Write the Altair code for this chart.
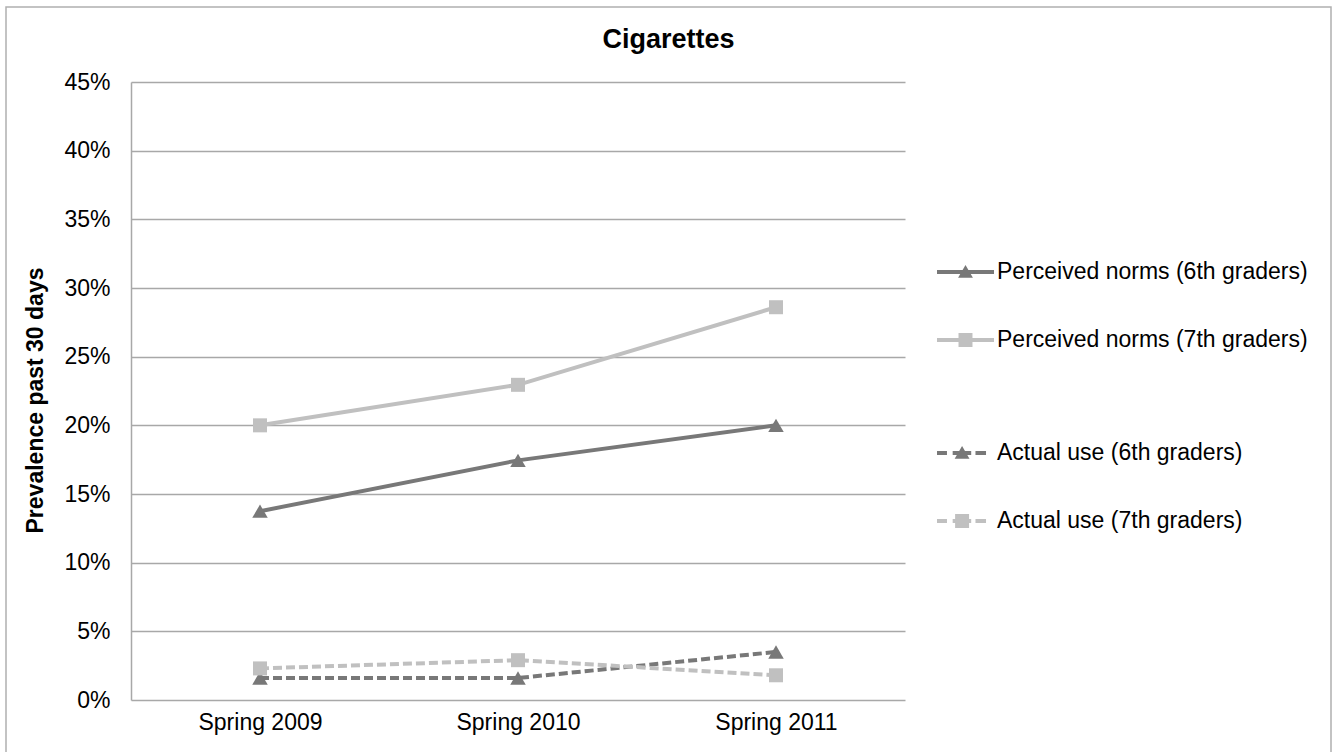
import altair as alt
import pandas as pd

periods = ["Spring 2009", "Spring 2010", "Spring 2011"]
series_names = [
    "Perceived norms (6th graders)",
    "Perceived norms (7th graders)",
    "Actual use (6th graders)",
    "Actual use (7th graders)",
]
perceived_6th = [13.75, 17.45, 20.0]
perceived_7th = [20.0, 22.95, 28.6]
actual_6th = [1.6, 1.6, 3.5]
actual_7th = [2.3, 2.9, 1.8]

values = [perceived_6th, perceived_7th, actual_6th, actual_7th]
rows = []
for name, vals in zip(series_names, values):
    for p, v in zip(periods, vals):
        rows.append({"period": p, "series": name, "value": v / 100})
df = pd.DataFrame(rows)

dark = "#787878"
light = "#c0c0c0"
colors = [dark, light, dark, light]
dashes = [None, None, [9, 4], [9, 4]]
markers = ["triangle-up", "square", "triangle-up", "square"]
marker_sizes = [240, 196, 240, 196]

# legend symbol paths (unit square -1..1): line segment(s) plus marker
solid = "M-1,-0.07H1V0.07H-1Z "
dashed = ("M-1,-0.07H-0.65V0.07H-1Z M-0.45,-0.07H0.2V0.07H-0.45Z "
          "M0.35,-0.07H0.72V0.07H0.35Z ")
sym_paths = [
    solid + "M-0.26,0.2L0,-0.25L0.26,0.2Z",
    solid + "M-0.245,-0.245H0.245V0.245H-0.245Z",
    dashed + "M-0.38,0.2L-0.12,-0.25L0.14,0.2Z",
    dashed + "M-0.365,-0.245H0.125V0.245H-0.365Z",
]

font = "Liberation Sans"

x_enc = alt.X("period:N", sort=periods, scale=alt.Scale(type="point", padding=0.5),
              axis=alt.Axis(title=None, labelFontSize=23, labelColor="#000000",
                            labelFont=font, ticks=False, domain=False, grid=False,
                            labelPadding=11, labelAngle=0))
y_enc = alt.Y("value:Q", scale=alt.Scale(domain=[0, 0.45], nice=False),
              axis=alt.Axis(format=".0%", values=[i * 0.05 for i in range(10)],
                            title="Prevalence past 30 days", titleFontSize=23,
                            titleFont=font, titleFontWeight="bold", titleColor="#000000",
                            titleX=-96, titleY=318, titleAngle=-90, titleBaseline="middle",
                            titleAlign="center",
                            labelFontSize=23, labelFont=font, labelColor="#000000",
                            labelPadding=21, tickSize=0, grid=True, gridColor="#a8a8a8",
                            gridWidth=1.5, domain=True, domainColor="#a8a8a8",
                            domainWidth=1.5))

frame = alt.Chart(df).mark_rect(fill=None, stroke="#b0b0b0", strokeWidth=1.5).encode(
    x=alt.value(-125), x2=alt.value(1200), y=alt.value(-75), y2=alt.value(690)
).transform_filter("datum.period == 'Spring 2009' && datum.series == '%s'" % series_names[0])

layers = [frame]
for name, col, dash, shp, sz in zip(series_names, colors, dashes, markers, marker_sizes):
    base = alt.Chart(df).transform_filter(alt.datum.series == name)
    line_kwargs = dict(strokeWidth=4, strokeCap="butt", color=col)
    if dash:
        line_kwargs["strokeDash"] = dash
    layers.append(base.mark_line(**line_kwargs).encode(x=x_enc, y=y_enc))
    layers.append(base.mark_point(shape=shp, filled=True, size=sz, opacity=1,
                                  color=col).encode(x=x_enc, y=y_enc))


def legend_layer(names, cols, paths, legend_y):
    leg = dict(title=None, orient="none", legendX=806, legendY=legend_y,
               symbolSize=3249, symbolStrokeWidth=0, symbolOpacity=1,
               labelFontSize=23, labelFont=font, labelColor="#000000", labelOffset=3,
               rowPadding=27, labelLimit=400)
    return alt.Chart(df).transform_filter("false").mark_point(filled=True, opacity=1).encode(
        x=x_enc, y=y_enc,
        color=alt.Color("series:N", scale=alt.Scale(domain=names, range=cols),
                        legend=alt.Legend(**leg)),
        shape=alt.Shape("series:N", scale=alt.Scale(domain=names, range=paths),
                        legend=alt.Legend(**leg)),
    )


layers.append(legend_layer(series_names[:2], colors[:2], sym_paths[:2], 161.5))
layers.append(legend_layer(series_names[2:], colors[2:], sym_paths[2:], 342.5))

chart = alt.layer(*layers).resolve_scale(
    color="independent", shape="independent"
).properties(
    width=774, height=618,
    title=alt.TitleParams("Cigarettes", fontSize=27, font=font, fontWeight="bold",
                          color="#000000", anchor="middle", frame="bounds", offset=-48),
    autosize=alt.AutoSizeParams(type="none"),
    padding={"left": 131, "top": 82, "right": 431, "bottom": 52},
).configure(background="#ffffff").configure_view(stroke=None)

chart.save("out.html", embed_options={"renderer": "svg", "actions": False})
